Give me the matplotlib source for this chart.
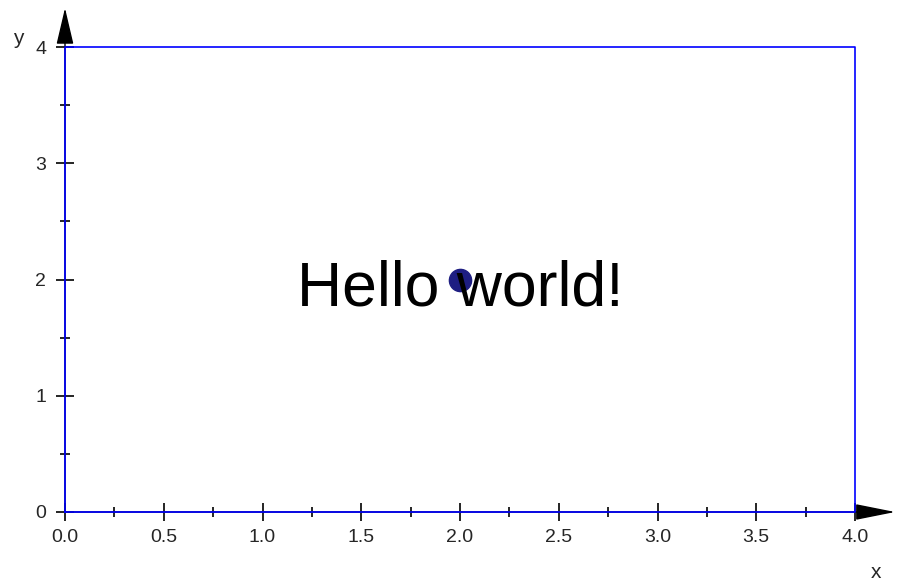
import matplotlib
matplotlib.use("Agg")
import matplotlib.pyplot as plt
import numpy as np

# data
rect_x = [0, 4, 4, 0, 0]
rect_y = [0, 0, 4, 4, 0]
point = (2, 2)
label = "Hello world!"
xticks = [0.0, 0.5, 1.0, 1.5, 2.0, 2.5, 3.0, 3.5, 4.0]
yticks = [0, 1, 2, 3, 4]

plt.rcParams['font.family'] = ['Liberation Sans', 'DejaVu Sans']

fig = plt.figure(figsize=(9, 5.84), dpi=100)
ax = fig.add_axes([65/900, 1 - 512/584, 790/900, 465/584])
ax.set_xlim(0, 4)
ax.set_ylim(0, 4)
for s in ax.spines.values():
    s.set_visible(False)

# axes with arrows
ax.annotate('', xy=(4.203, 0), xytext=(0, 0), annotation_clip=False,
            arrowprops=dict(arrowstyle='-|>,head_length=2.5,head_width=0.5', color='black', lw=1, shrinkA=0, shrinkB=0))
ax.annotate('', xy=(0, 4.335), xytext=(0, 0), annotation_clip=False,
            arrowprops=dict(arrowstyle='-|>,head_length=2.3,head_width=0.54', color='black', lw=1, shrinkA=0, shrinkB=0))

ax.plot(rect_x, rect_y, color='#0000ff', lw=1.2, clip_on=False, zorder=3)
ax.plot([point[0]], [point[1]], 'o', color='#1e1e82', ms=16, zorder=4)
ax.annotate(label, xy=point, xytext=(0, -18.4), textcoords='offset points',
            fontsize=45, ha='center', va='baseline', zorder=5)

ax.set_xticks(xticks)
ax.set_xticklabels([f"{v:.1f}" for v in xticks])
ax.set_xticks(np.arange(0, 4.01, 0.25), minor=True)
ax.set_yticks(yticks)
ax.set_yticklabels([str(v) for v in yticks])
ax.set_yticks(np.arange(0, 4.01, 0.5), minor=True)
ax.tick_params(which='both', direction='inout', colors='black', labelcolor='#262626', labelsize=14, width=1.2)
ax.tick_params(which='major', length=13)
ax.tick_params(which='minor', length=6.5)
ax.tick_params(axis='x', which='major', pad=5.5)
ax.tick_params(axis='y', which='major', pad=7)

fig.text(18/900, 1 - 38/584, 'y', fontsize=15, ha='center', va='center', color='#262626')
fig.text(876/900, 1 - 572/584, 'x', fontsize=15, ha='center', va='center', color='#262626')

fig.savefig('out.png', dpi=100)
